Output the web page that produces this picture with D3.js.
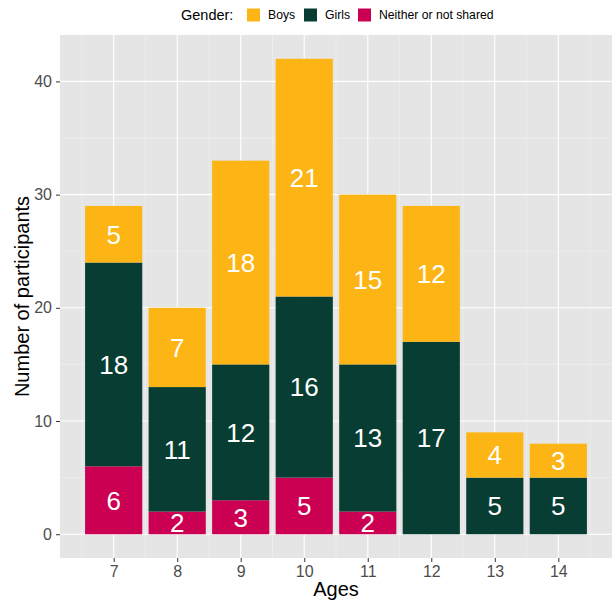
<!DOCTYPE html>
<html>
<head>
<meta charset="utf-8">
<script src="https://cdn.jsdelivr.net/npm/d3@7"></script>
<style>
  body { margin: 0; background: #fff; }
  text { font-family: "Liberation Sans", Arial, sans-serif; }
</style>
</head>
<body>
<div class="chart"></div>
<script>
const ages = [7, 8, 9, 10, 11, 12, 13, 14]
const neither = [6, 2, 3, 5, 2, 0, 0, 0]
const girls = [18, 11, 12, 16, 13, 17, 5, 5]
const boys = [5, 7, 18, 21, 15, 12, 4, 3]
const genders = ['Boys', 'Girls', 'Neither or not shared']
const colors = ['#FDB515', '#083D33', '#CC0052']
const yTicks = [0, 10, 20, 30, 40]

const width = 614, height = 603
const margin = { top: 35, right: 2, bottom: 45, left: 60 }

const svg = d3.select('.chart').append('svg')
  .attr('width', width)
  .attr('height', height)

// rows for stacking, bottom to top: neither, girls, boys
const rows = ages.map((a, i) => ({ age: a, neither: neither[i], girls: girls[i], boys: boys[i] }))
const stack = d3.stack().keys(['neither', 'girls', 'boys'])(rows)
const keyColor = { boys: colors[0], girls: colors[1], neither: colors[2] }

const maxTotal = d3.max(rows, d => d.neither + d.girls + d.boys)
const barW = 0.9

// continuous x with ggplot-like 5% expansion
const xLo = d3.min(ages) - barW / 2, xHi = d3.max(ages) + barW / 2
const xPad = (xHi - xLo) * 0.05
const x = d3.scaleLinear()
  .domain([xLo - xPad, xHi + xPad])
  .range([margin.left, width - margin.right])

const y = d3.scaleLinear()
  .domain([-maxTotal * 0.05, maxTotal * 1.05])
  .range([height - margin.bottom, margin.top])

const chart = svg.append('g')

chart.append('rect')
  .attr('x', margin.left)
  .attr('y', margin.top)
  .attr('width', width - margin.right - margin.left)
  .attr('height', height - margin.bottom - margin.top)
  .attr('fill', '#E5E5E5')

// minor grid
const xMinor = ages.map(a => a - 0.5).concat([d3.max(ages) + 0.5])
const yMinor = yTicks.map(t => t + 5).filter(t => t < maxTotal * 1.05)
chart.selectAll('.xminor').data(xMinor).enter().append('line')
  .attr('x1', d => x(d)).attr('x2', d => x(d))
  .attr('y1', margin.top).attr('y2', height - margin.bottom)
  .attr('stroke', '#F2F2F2').attr('stroke-width', 0.6)
chart.selectAll('.yminor').data(yMinor).enter().append('line')
  .attr('y1', d => y(d)).attr('y2', d => y(d))
  .attr('x1', margin.left).attr('x2', width - margin.right)
  .attr('stroke', '#F2F2F2').attr('stroke-width', 0.6)

// major grid
chart.selectAll('.xmajor').data(ages).enter().append('line')
  .attr('x1', d => x(d)).attr('x2', d => x(d))
  .attr('y1', margin.top).attr('y2', height - margin.bottom)
  .attr('stroke', '#fff').attr('stroke-width', 1.1)
chart.selectAll('.ymajor').data(yTicks).enter().append('line')
  .attr('y1', d => y(d)).attr('y2', d => y(d))
  .attr('x1', margin.left).attr('x2', width - margin.right)
  .attr('stroke', '#fff').attr('stroke-width', 1.1)

// bars
const layers = chart.selectAll('.layer')
  .data(stack)
  .enter().append('g')
  .attr('fill', d => keyColor[d.key])

layers.selectAll('rect')
  .data(d => d)
  .enter().append('rect')
  .attr('x', d => x(d.data.age - barW / 2))
  .attr('width', x(barW) - x(0))
  .attr('y', d => y(d[1]))
  .attr('height', d => y(d[0]) - y(d[1]))

layers.selectAll('text')
  .data(d => d.filter(s => s[1] - s[0] > 0))
  .enter().append('text')
  .attr('x', d => x(d.data.age))
  .attr('y', d => y((d[0] + d[1]) / 2))
  .attr('dy', '0.36em')
  .attr('text-anchor', 'middle')
  .attr('fill', '#fff')
  .style('font-size', '26px')
  .text(d => d[1] - d[0])

// axes
const xAxis = chart.append('g')
  .attr('transform', `translate(0, ${height - margin.bottom})`)
  .call(d3.axisBottom(x).tickValues(ages).tickSize(4).tickPadding(4))
const yAxis = chart.append('g')
  .attr('transform', `translate(${margin.left}, 0)`)
  .call(d3.axisLeft(y).tickValues(yTicks).tickSize(4).tickPadding(4))

;[xAxis, yAxis].forEach(a => {
  a.select('.domain').remove()
  a.selectAll('line').attr('stroke', '#333').attr('stroke-width', 1)
  a.selectAll('text')
    .style('font-size', '16px')
    .style('font-family', '"Liberation Sans", Arial, sans-serif')
    .attr('fill', '#4D4D4D')
})

chart.append('text')
  .attr('x', (margin.left + width - margin.right) / 2)
  .attr('y', 596)
  .attr('text-anchor', 'middle')
  .style('font-size', '20px')
  .text('Ages')

chart.append('text')
  .attr('transform', `translate(29, ${(margin.top + height - margin.bottom) / 2}) rotate(-90)`)
  .attr('text-anchor', 'middle')
  .style('font-size', '20px')
  .text('Number of participants')

// legend
const legend = svg.append('g')
legend.append('text')
  .attr('x', 181).attr('y', 15).attr('dy', '0.36em')
  .style('font-size', '14.5px')
  .text('Gender:')

const keyX = [247, 304, 358]
genders.forEach((g, i) => {
  legend.append('rect')
    .attr('x', keyX[i]).attr('y', 8.5)
    .attr('width', 13).attr('height', 13)
    .attr('fill', colors[i])
  legend.append('text')
    .attr('x', keyX[i] + 21).attr('y', 15).attr('dy', '0.36em')
    .style('font-size', '12.2px')
    .text(g)
})
</script>
</body>
</html>
